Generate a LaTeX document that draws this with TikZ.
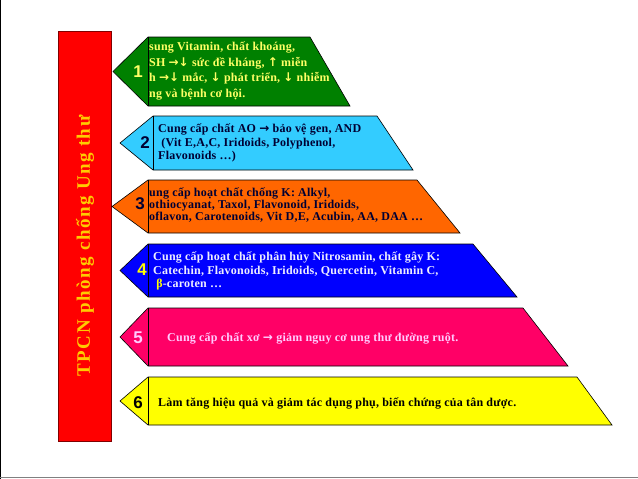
\documentclass[tikz,border=0pt]{standalone}
\usepackage{fontspec}
\setmainfont{Liberation Serif}
\newfontfamily\numfont{Liberation Sans}
\newfontfamily\bodyfont[LetterSpace=2]{Liberation Serif}
\newfontfamily\titlefont[LetterSpace=8]{Liberation Serif}
\newfontfamily\arrowfont{DejaVu Sans}
\newcommand\arw[1]{{\arrowfont\bfseries #1}}
\definecolor{barred}{HTML}{FF0000}
\definecolor{barline}{HTML}{800000}
\definecolor{bargold}{HTML}{FFCC00}
\definecolor{pgreen}{HTML}{008000}
\definecolor{pcyan}{HTML}{33CCFF}
\definecolor{porange}{HTML}{FF6600}
\definecolor{pblue}{HTML}{0000FF}
\definecolor{ppink}{HTML}{FF0066}
\definecolor{pyellow}{HTML}{FFFF00}
\definecolor{lemon}{HTML}{FFFF66}
\definecolor{navy}{HTML}{000033}
\definecolor{paleblue}{HTML}{EEEEFF}
\definecolor{palepink}{HTML}{FFCCFF}
\tikzset{band/.style={draw=black,line width=0.6pt},
 tag/.style={font=\numfont\bfseries\fontsize{17}{17}\selectfont,inner sep=0pt},
 txt/.style={font=\bodyfont\bfseries\fontsize{12}{13.4}\selectfont,anchor=west,align=left,inner sep=0pt}}

\begin{document}
\begin{tikzpicture}[x=1pt,y=-1pt]
 \useasboundingbox (0,0) rectangle (638,479);
 \draw[line width=1pt] (0.5,0)--(0.5,479);
 \draw[gray,line width=1pt] (0,477.5)--(638,477.5);
 \node[draw=barline,fill=barred,line width=0.8pt,minimum width=53pt,minimum height=410pt,inner sep=0pt] (bar) at (84.5,236) {};
 \node[rotate=90,text=bargold,font=\titlefont\bfseries\fontsize{19}{19}\selectfont] (title) at (85,246) {TPCN phòng chống Ung thư};
 \foreach \t/\b/\tip/\l/\rt/\rb/\c in {37/106/113/148/310/350/pgreen,116/170/120/153/377/413/pcyan,
  180/233/112/148/417/460/porange,244/297/120/148/473/517/pblue,
  308/366/120/148/523/568/ppink,377/425/120/148/577/612/pyellow}{
  \filldraw[band,fill=\c] (\tip,{(\t+\b)/2}) -- (\l,\t) -- (\rt,\t) -- (\rb,\b) -- (\l,\b) -- cycle;
  \draw[band] (\l,\t) -- (\l,\b);
 }
 \node[tag,text=lemon] (n1) at (138,72) {1};
 \node[tag,text=navy] (n2) at (145,143) {2};
 \node[tag,text=navy] (n3) at (140,204) {3};
 \node[tag,text=pyellow] (n4) at (142,270) {4};
 \node[tag,text=palepink] (n5) at (138,338) {5};
 \node[tag,text=black] (n6) at (138,403) {6};
 \node[txt,text=lemon,font=\bodyfont\bfseries\fontsize{12}{15.5}\selectfont] (t1) at (149,71)
  {sung Vitamin, chất khoáng,\\SH \arw{→↓} sức đề kháng, \arw{↑} miễn\\h \arw{→↓} mắc, \arw{↓} phát triển, \arw{↓} nhiễm\\ng và bệnh cơ hội.};
 \node[txt,text=navy] (t2) at (158,143)
  {Cung cấp chất AO \arw{→} bảo vệ gen, AND\\\ (Vit E,A,C, Iridoids, Polyphenol,\\Flavonoids …)};
 \node[txt,text=navy,font=\bodyfont\bfseries\fontsize{12}{12.2}\selectfont] (t3) at (149,205)
  {ung cấp hoạt chất chống K: Alkyl,\\othiocyanat, Taxol, Flavonoid, Iridoids,\\oflavon, Carotenoids, Vit D,E, Acubin, AA, DAA …};
 \node[txt,text=paleblue] (t4) at (153,271)
  {Cung cấp hoạt chất phân hủy Nitrosamin, chất gây K:\\Catechin, Flavonoids, Iridoids, Quercetin, Vitamin C,\\\ \textcolor{pyellow}{β}-caroten …};
 \node[txt,text=palepink] (t5) at (167,338) {Cung cấp chất xơ \arw{→} giảm nguy cơ ung thư đường ruột.};
 \node[txt,text=black] (t6) at (158,403) {Làm tăng hiệu quả và giảm tác dụng phụ, biến chứng của tân dược.};
\end{tikzpicture}
\end{document}
